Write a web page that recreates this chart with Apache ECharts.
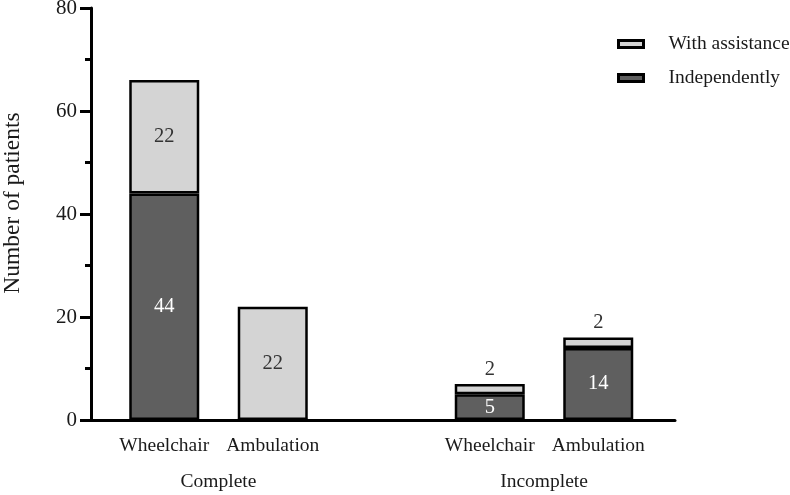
<!DOCTYPE html>
<html><head><meta charset="utf-8">
<script src="https://cdn.jsdelivr.net/npm/echarts@6/dist/echarts.min.js"></script>
<style>html,body{margin:0;padding:0;background:#fff}#c{width:790px;height:495px}</style>
</head><body><div id="c"></div>
<script>
const categories = ['Wheelchair', 'Ambulation', '', 'Wheelchair', 'Ambulation'];
const groupLabels = ['', '', 'Complete', '', '', '', '', '', 'Incomplete', '', ''];
const independently = [44, 0, null, 5, 14];
const withAssistance = [22, 22, null, 2, 2];
const yTicks = [0, 20, 40, 60, 80];

const FONT = "'Liberation Serif', 'Times New Roman', serif";
const DARK = '#5f5f5f', LIGHT = '#d4d4d4';

const chart = echarts.init(document.getElementById('c'));
function labelFor(v, color) {
  return { show: v > 0, position: v < 5 ? 'top' : 'inside', distance: 4,
    color: v < 5 ? '#333' : color, fontSize: 20.5, fontFamily: FONT };
}
chart.setOption({
  animation: false,
  textStyle: { fontFamily: FONT },
  legend: {
    data: ['With assistance', 'Independently'],
    orient: 'vertical', left: 617, top: 34, padding: 0,
    icon: 'rect',
    itemWidth: 25, itemHeight: 7, itemGap: 14,
    itemStyle: { borderColor: '#000', borderWidth: 3 },
    textStyle: { fontSize: 19.5, color: '#1a1a1a', fontFamily: FONT, padding: [0, 0, 0, 20], lineHeight: 20 }
  },
  grid: [
    { left: 110, width: 542.5, top: 8, bottom: 75, outerBoundsMode: 'none' },
    { left: 91, right: 115, top: 8, bottom: 75, outerBoundsMode: 'none' }
  ],
  xAxis: [
    { gridIndex: 0, type: 'category', data: categories, axisLine: { show: false }, axisTick: { show: false },
      axisLabel: { interval: 0, fontSize: 19.5, color: '#1a1a1a', margin: 16, fontFamily: FONT } },
    { gridIndex: 0, type: 'category', data: groupLabels, boundaryGap: false, position: 'bottom', offset: 36,
      axisLine: { show: false }, axisTick: { show: false },
      axisLabel: { interval: 0, fontSize: 19.5, color: '#1a1a1a', margin: 16, fontFamily: FONT } },
    { gridIndex: 1, type: 'value', min: 0, max: 1, axisLabel: { show: false }, axisTick: { show: false },
      splitLine: { show: false }, axisLine: { lineStyle: { color: '#000', width: 3 } } }
  ],
  yAxis: [
    { gridIndex: 0, type: 'value', min: yTicks[0], max: yTicks[yTicks.length - 1], show: false, splitLine: { show: false } },
    { gridIndex: 1, type: 'value', min: yTicks[0], max: yTicks[yTicks.length - 1], interval: yTicks[1] - yTicks[0],
      name: 'Number of patients', nameLocation: 'middle', nameRotate: 90, nameGap: 66,
      nameTextStyle: { fontSize: 23.5, color: '#1a1a1a', fontFamily: FONT, padding: [0, 0, 0, 22] },
      axisLine: { show: true, lineStyle: { color: '#000', width: 3 } },
      axisTick: { show: true, length: 11, lineStyle: { color: '#000', width: 3 } },
      minorTick: { show: true, splitNumber: 2, length: 6, lineStyle: { color: '#000', width: 3 } },
      axisLabel: { fontSize: 21, color: '#1a1a1a', margin: 14, fontFamily: FONT },
      splitLine: { show: false } }
  ],
  series: [
    { name: 'Independently', type: 'bar', stack: 's', xAxisIndex: 0, yAxisIndex: 0, barWidth: 70,
      itemStyle: { color: DARK, borderColor: '#000', borderWidth: 2.5 },
      data: independently.map(v => ({ value: v, label: labelFor(v, '#fff') })) },
    { name: 'With assistance', type: 'bar', stack: 's', xAxisIndex: 0, yAxisIndex: 0, barWidth: 70,
      itemStyle: { color: LIGHT, borderColor: '#000', borderWidth: 2.5 },
      data: withAssistance.map(v => ({ value: v, label: labelFor(v, '#333') })) }
  ]
});
</script></body></html>
